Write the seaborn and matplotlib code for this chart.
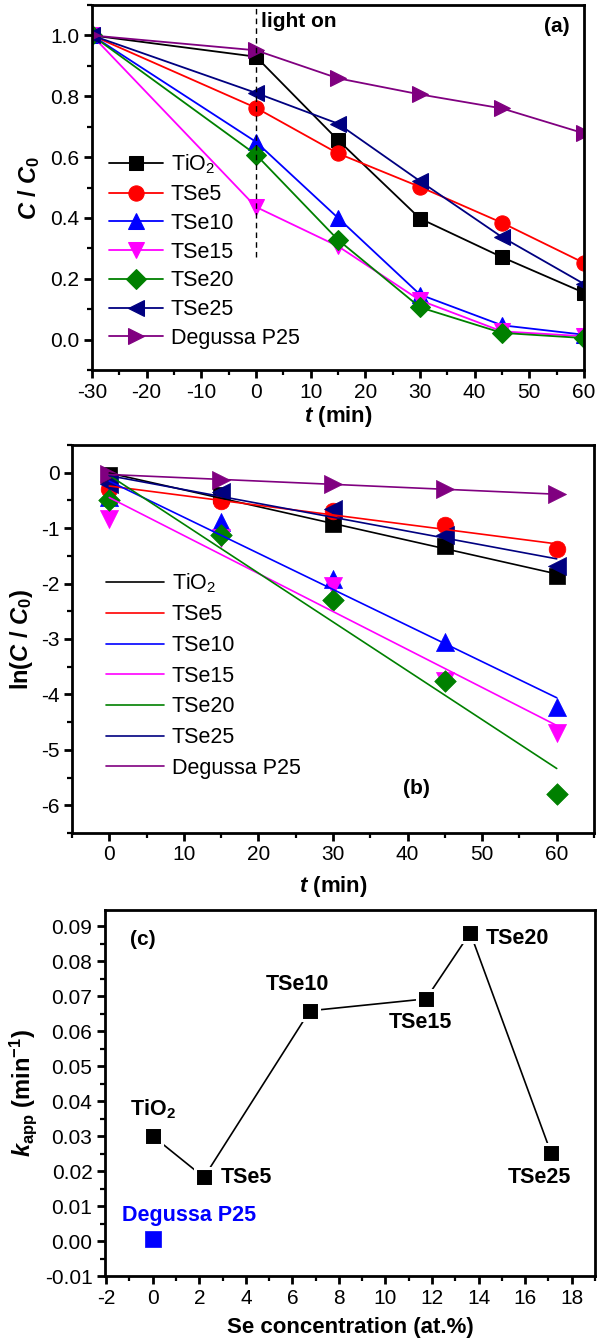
import numpy as np
import pandas as pd
import matplotlib
matplotlib.use("Agg")
import matplotlib.pyplot as plt
import seaborn as sns
from matplotlib.ticker import MultipleLocator, FormatStrFormatter

# ---------------- data ----------------
series_names = ["TiO2", "TSe5", "TSe10", "TSe15", "TSe20", "TSe25", "Degussa P25"]
legend_labels = [r"TiO$_\mathregular{2}$", "TSe5", "TSe10", "TSe15", "TSe20", "TSe25", "Degussa P25"]
colors = ["#000000", "#FF0000", "#0000FF", "#FF00FF", "#008000", "#000080", "#800080"]
markers = ["s", "o", "^", "v", "D", "<", ">"]

# panel (a): C/C0 vs t
t_a = [-30, 0, 15, 30, 45, 60]
c_tio2 = [1.0, 0.930, 0.656, 0.398, 0.271, 0.154]
c_tse5 = [1.0, 0.762, 0.612, 0.502, 0.384, 0.252]
c_tse10 = [1.0, 0.650, 0.400, 0.148, 0.047, 0.016]
c_tse15 = [1.0, 0.436, 0.307, 0.129, 0.027, 0.011]
c_tse20 = [1.0, 0.608, 0.328, 0.106, 0.022, 0.005]
c_tse25 = [1.0, 0.811, 0.710, 0.521, 0.337, 0.183]
c_p25 = [1.0, 0.951, 0.859, 0.806, 0.760, 0.678]
c_all = [c_tio2, c_tse5, c_tse10, c_tse15, c_tse20, c_tse25, c_p25]

# panel (b): ln(C/C0) vs t
t_b = [0, 15, 30, 45, 60]
ln_tio2 = [-0.05, -0.41, -0.93, -1.32, -1.87]
ln_tse5 = [-0.29, -0.51, -0.69, -0.94, -1.38]
ln_tse10 = [-0.43, -0.89, -1.92, -3.06, -4.23]
ln_tse15 = [-0.84, -1.18, -2.05, -3.76, -4.69]
ln_tse20 = [-0.50, -1.12, -2.29, -3.76, -5.79]
ln_tse25 = [-0.20, -0.35, -0.66, -1.12, -1.69]
ln_p25 = [-0.02, -0.14, -0.21, -0.29, -0.39]
ln_all = [ln_tio2, ln_tse5, ln_tse10, ln_tse15, ln_tse20, ln_tse25, ln_p25]

# panel (c): k_app vs Se concentration
k_names = ["TiO2", "TSe5", "TSe10", "TSe15", "TSe20", "TSe25"]
k_labels = [r"TiO$_\mathregular{2}$", "TSe5", "TSe10", "TSe15", "TSe20", "TSe25"]
se_conc = [0.0, 2.2, 6.75, 11.74, 13.64, 17.11]
k_app = [0.0300, 0.0182, 0.0658, 0.0692, 0.0881, 0.0252]
p25_conc = [0.0]
p25_k = [0.0005]
p25_label = "Degussa P25"

# label offsets (points) for panel (c) annotations
k_label_offsets = [(0, 19), (12, 0), (-9, 19), (-4, -17), (11, -4), (-8, -18)]
k_label_ha = ["center", "left", "center", "center", "left", "center"]

light_on_x = 0
light_on_ymin = 0.27

# ---------------- style ----------------
sns.set_theme(style="ticks")
plt.rcParams.update({
    "font.family": ["Liberation Sans", "DejaVu Sans"],
    "mathtext.fontset": "custom",
    "mathtext.it": "Liberation Sans:italic:bold",
    "mathtext.rm": "Liberation Sans",
    "mathtext.bf": "Liberation Sans:bold",
    "axes.linewidth": 2.0,
    "axes.edgecolor": "black",
    "xtick.direction": "out",
    "ytick.direction": "out",
    "xtick.major.size": 6,
    "ytick.major.size": 6,
    "xtick.major.width": 2,
    "ytick.major.width": 2,
    "xtick.minor.size": 3.5,
    "ytick.minor.size": 3.5,
    "xtick.minor.width": 1.6,
    "ytick.minor.width": 1.6,
    "xtick.labelsize": 15,
    "ytick.labelsize": 15,
    "xtick.color": "black",
    "ytick.color": "black",
    "axes.labelcolor": "black",
    "text.color": "black",
})

W, H = 600, 1344
fig = plt.figure(figsize=(W / 100, H / 100), dpi=100)


def add_ax(left, right, top, bottom):
    return fig.add_axes([left / W, 1 - bottom / H, (right - left) / W, (bottom - top) / H])


ax_a = add_ax(92, 584, 5, 370)
ax_b = add_ax(72, 594, 445, 833)
ax_c = add_ax(105, 595, 910, 1276)

label_fs = 16
msizes = [10.5, 11, 12, 12, 10, 12, 12]

# ---------------- panel (a) ----------------
for name, lab, col, mk, ms, vals in zip(series_names, legend_labels, colors, markers, msizes, c_all):
    df = pd.DataFrame({"t": t_a, "c": vals})
    sns.lineplot(data=df, x="t", y="c", ax=ax_a, color=col, marker=mk, markersize=ms,
                 markeredgecolor=col, linewidth=1.3, label=lab, sort=False)
ax_a.plot([light_on_x, light_on_x], [light_on_ymin, 1.1], ls=(0, (4, 3)), color="black", lw=1.0)
ax_a.text(light_on_x + 1.0, 1.045, "light on", fontsize=15, fontweight="bold", va="center", ha="left")
ax_a.text(55, 1.03, "(a)", fontsize=15, fontweight="bold", va="center", ha="center")
ax_a.set_xlim(-30, 60)
ax_a.set_ylim(-0.1, 1.1)
ax_a.xaxis.set_major_locator(MultipleLocator(10))
ax_a.xaxis.set_minor_locator(MultipleLocator(5))
ax_a.yaxis.set_major_locator(MultipleLocator(0.2))
ax_a.yaxis.set_minor_locator(MultipleLocator(0.1))
ax_a.set_xlabel(r"$t$ (min)", fontsize=label_fs, fontweight="bold", labelpad=2)
ax_a.set_ylabel(r"$C$ / $C_\mathregular{0}$", fontsize=label_fs + 1, fontweight="bold", labelpad=6)
ax_a.legend(loc="upper left", bbox_to_anchor=(0.035, 0.595), frameon=False, fontsize=15.5,
            handlelength=2.5, handletextpad=0.35, labelspacing=0.36, borderpad=0, borderaxespad=0)

# ---------------- panel (b) ----------------
for name, lab, col, mk, ms, vals in zip(series_names, legend_labels, colors, markers, msizes, ln_all):
    df = pd.DataFrame({"t": t_b, "ln": vals})
    sns.scatterplot(data=df, x="t", y="ln", ax=ax_b, color=col, marker=mk, s=(ms + 1) ** 2,
                    edgecolor=col, linewidth=0.5, zorder=3)
    sns.regplot(data=df, x="t", y="ln", ax=ax_b, scatter=False, ci=None, truncate=True,
                label=lab, line_kws={"color": col, "lw": 1.2, "zorder": 4})
ax_b.text(41.2, -5.70, "(b)", fontsize=15, fontweight="bold", va="center", ha="center")
ax_b.set_xlim(-5, 65)
ax_b.set_ylim(-6.5, 0.5)
ax_b.xaxis.set_major_locator(MultipleLocator(10))
ax_b.xaxis.set_minor_locator(MultipleLocator(5))
ax_b.yaxis.set_major_locator(MultipleLocator(1))
ax_b.yaxis.set_minor_locator(MultipleLocator(0.5))
ax_b.set_xlabel(r"$t$ (min)", fontsize=label_fs, fontweight="bold", labelpad=7)
ax_b.set_ylabel(r"ln($C$ / $C_\mathregular{0}$)", fontsize=label_fs + 1, fontweight="bold", labelpad=4)
ax_b.legend(loc="upper left", bbox_to_anchor=(0.065, 0.675), frameon=False, fontsize=15.5,
            handlelength=2.7, handletextpad=0.35, labelspacing=0.45, borderpad=0, borderaxespad=0)

# ---------------- panel (c) ----------------
dfc = pd.DataFrame({"x": se_conc, "k": k_app})
sns.lineplot(data=dfc, x="x", y="k", ax=ax_c, color="black", lw=1.2, marker="s", markersize=13.5,
             markerfacecolor="black", markeredgecolor="white", markeredgewidth=2.2)
dfp = pd.DataFrame({"x": p25_conc, "k": p25_k})
sns.scatterplot(data=dfp, x="x", y="k", ax=ax_c, color="#0000FF", marker="s", s=125,
                edgecolor="#0000FF", linewidth=0.5, zorder=3)
for x, y, lab, off, ha in zip(se_conc, k_app, k_labels, k_label_offsets, k_label_ha):
    ax_c.annotate(lab, (x, y), xytext=off, textcoords="offset points", ha=ha, va="center",
                  fontsize=15.5, fontweight="bold")
ax_c.annotate(p25_label, (p25_conc[0], p25_k[0]), xytext=(26, 17), textcoords="offset points",
              ha="center", va="center", fontsize=15.5, fontweight="bold", color="#0000FF")
ax_c.text(-0.43, 0.0862, "(c)", fontsize=15, fontweight="bold", va="center", ha="center")
ax_c.set_xlim(-2.05, 19)
ax_c.set_ylim(-0.01, 0.0946)
ax_c.xaxis.set_major_locator(MultipleLocator(2))
ax_c.xaxis.set_minor_locator(MultipleLocator(1))
ax_c.yaxis.set_major_locator(MultipleLocator(0.01))
ax_c.yaxis.set_minor_locator(MultipleLocator(0.005))
ax_c.yaxis.set_major_formatter(FormatStrFormatter("%.2f"))
ax_c.set_xlabel("Se concentration (at.%)", fontsize=label_fs, fontweight="bold", labelpad=7)
ax_c.set_ylabel(r"$k_\mathregular{app}$ (min$^\mathregular{-1}$)", fontsize=label_fs + 1,
                fontweight="bold", labelpad=4)

for ax in (ax_a, ax_b, ax_c):
    ax.tick_params(which="both", top=False, right=False, pad=3)
    for s in ax.spines.values():
        s.set_visible(True)
        s.set_linewidth(2.0)
        s.set_color("black")
    ax.grid(False)

ax_a.yaxis.set_major_formatter(FormatStrFormatter("%.1f"))
ax_b.yaxis.set_major_formatter(FormatStrFormatter("%g"))
ax_b.xaxis.set_major_formatter(FormatStrFormatter("%g"))
ax_a.xaxis.set_major_formatter(FormatStrFormatter("%g"))
ax_c.xaxis.set_major_formatter(FormatStrFormatter("%g"))

fig.savefig("out.png", dpi=100)
